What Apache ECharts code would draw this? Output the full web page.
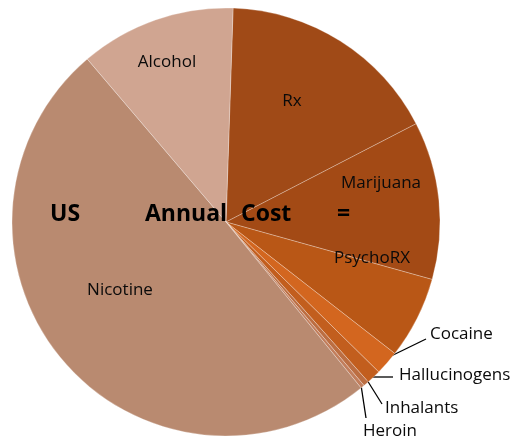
<!DOCTYPE html>
<html>
<head>
<meta charset="utf-8">
<script src="https://cdn.jsdelivr.net/npm/echarts@6/dist/echarts.min.js"></script>
<style>
  html, body { margin: 0; padding: 0; background: #fff; }
  #chart { width: 512px; height: 439px; }
</style>
</head>
<body>
<div id="chart"></div>
<script>
// Annual cost by substance (billions of US dollars), clockwise from 12 o'clock
const categories = ['Rx', 'Marijuana', 'PsychoRX', 'Cocaine', 'Hallucinogens', 'Inhalants', 'Heroin', 'Nicotine', 'Alcohol'];
const costs = [102, 72, 37.5, 11, 6.5, 2.5, 1.7, 300, 71];
const sliceColors = ['#A04A17', '#A34A15', '#B95716', '#D3661F', '#C25E1E', '#BC6E42', '#C27E5C', '#B98A70', '#D0A591'];

// Label placement: inside labels sit on the slice, the small slices get leader lines
const labelSpots = {
  Rx:            { x: 292, y: 101 },
  Marijuana:     { x: 381, y: 183 },
  PsychoRX:      { x: 372, y: 258 },
  Nicotine:      { x: 120, y: 290 },
  Alcohol:       { x: 167, y: 62 },
  Cocaine:       { x: 430, y: 334, line: [[387, 358], [426, 339]] },
  Hallucinogens: { x: 399, y: 375, line: [[370, 377], [393, 377]] },
  Inhalants:     { x: 385, y: 408, line: [[367, 380], [382, 404]] },
  Heroin:        { x: 363, y: 431, line: [[361, 385], [366, 418]] }
};

const titleFont = 'bold 23px "Open Sans"';

const chart = echarts.init(document.getElementById('chart'), null, { renderer: 'canvas' });

chart.setOption({
  animation: false,
  backgroundColor: '#ffffff',
  series: [{
    type: 'pie',
    center: [226, 222],
    radius: [0, 214],
    startAngle: 88.1,
    clockwise: true,
    avoidLabelOverlap: false,
    data: categories.map((name, i) => ({
      name: name,
      value: costs[i],
      itemStyle: { color: sliceColors[i] }
    })),
    itemStyle: {
      borderColor: 'rgba(255,255,255,0.35)',
      borderWidth: 0.8
    },
    label: {
      show: true,
      position: 'outside',
      formatter: '{b}',
      fontFamily: 'Open Sans',
      fontSize: 17,
      color: '#0a0a0a'
    },
    labelLine: {
      show: true,
      length: 10,
      length2: 10,
      lineStyle: { color: '#000000', width: 1.3 }
    },
    labelLayout: function (params) {
      const name = categories[params.dataIndex];
      const spot = labelSpots[name];
      if (spot.line) {
        return {
          x: spot.x,
          y: spot.y,
          align: 'left',
          verticalAlign: 'middle',
          labelLinePoints: [spot.line[0], spot.line[1], spot.line[1]]
        };
      }
      return {
        x: spot.x,
        y: spot.y,
        align: 'center',
        verticalAlign: 'middle',
        labelLinePoints: [[spot.x, spot.y], [spot.x, spot.y], [spot.x, spot.y]]
      };
    }
  }],
  graphic: [
    { type: 'text', left: 50, top: 203, style: { text: 'US', font: titleFont, fill: '#000' }, z: 100 },
    { type: 'text', left: 145, top: 203, style: { text: 'Annual', font: titleFont, fill: '#000' }, z: 100 },
    { type: 'text', left: 241, top: 203, style: { text: 'Cost', font: titleFont, fill: '#000' }, z: 100 },
    { type: 'text', left: 337, top: 203, style: { text: '=', font: titleFont, fill: '#000' }, z: 100 }
  ]
});
</script>
</body>
</html>
